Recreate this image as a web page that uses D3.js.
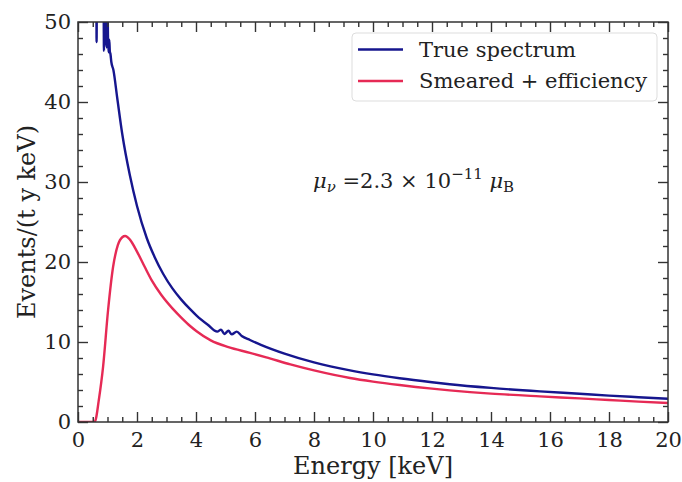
<!DOCTYPE html>
<html><head><meta charset="utf-8">
<script src="https://cdn.jsdelivr.net/npm/d3@7"></script>
<style>
body{margin:0;background:#fff;}
text{font-family:"DejaVu Serif",serif;fill:#222;}
</style></head>
<body><svg id="c" width="682" height="482"></svg>
<script>
// ---- data ----
const xTicks = [0,2,4,6,8,10,12,14,16,18,20];
const yTicks = [0,10,20,30,40,50];
const seriesNames = ["True spectrum","Smeared + efficiency"];
const trueE = [0.60,0.62,0.63,0.645,0.86,0.88,0.90,0.92,0.95,0.97,0.99,1.02,1.04,1.06,1.08,1.10,1.13,1.2,1.33,1.5,1.76,2.0,2.33,2.6,2.89,3.2,3.5,3.8,4.02,4.4,4.72,4.85,4.96,5.1,5.21,5.38,5.55,5.83,6.2,7.0,8.0,9.22,10.0,10.9,12.0,12.6,14.0,15.66,17.0,18.0,19.0,20.0];
const trueY = [60,60,47.5,60,60,46.4,56,47.2,55,46.8,55,47.5,46.2,47.8,46.3,46.0,45.0,44.0,40.5,36.0,30.8,27.0,23.0,20.6,18.5,16.7,15.3,14.1,13.3,12.15,11.3,11.55,11.0,11.4,10.95,11.3,10.75,10.25,9.65,8.55,7.45,6.45,5.95,5.47,4.97,4.72,4.26,3.83,3.53,3.3,3.1,2.9];
const smearE = [0.0,0.55,0.6,0.7,0.85,1.02,1.19,1.35,1.5,1.6,1.76,2.0,2.26,2.5,2.82,3.2,3.5,3.8,4.02,4.5,5.1,5.83,6.5,7.2,8.0,9.22,10.0,10.9,12.0,12.6,14.0,15.66,17.0,18.0,19.0,20.0];
const smearY = [0.0,0.0,0.3,2.6,6.9,14.0,19.4,22.1,23.1,23.25,22.8,21.3,19.4,17.7,15.9,14.2,13.05,12.0,11.35,10.2,9.35,8.65,7.95,7.2,6.45,5.5,5.05,4.62,4.17,3.96,3.55,3.2,2.95,2.75,2.55,2.37];
const xLabel = "Energy [keV]";
const yLabel = "Events/(t y keV)";

const svg = d3.select("#c");
const L=78,R=668,T=22,B=422;
const x = d3.scaleLinear().domain([0,20]).range([L,R]);
const y = d3.scaleLinear().domain([0,50]).range([B,T]);
const col = ["#16168e","#e62a55"];

svg.append("defs").append("clipPath").attr("id","clip")
  .append("rect").attr("x",L).attr("y",T).attr("width",R-L).attr("height",B-T);

const line = d3.line().x(d=>x(d[0])).y(d=>y(d[1])).curve(d3.curveMonotoneX);
const g = svg.append("g").attr("clip-path","url(#clip)");
g.append("path").datum(trueE.map((e,i)=>[e,trueY[i]]))
  .attr("d",line).attr("fill","none").attr("stroke",col[0]).attr("stroke-width",2.4).attr("stroke-linejoin","round");
g.append("path").datum(smearE.map((e,i)=>[e,smearY[i]]))
  .attr("d",line).attr("fill","none").attr("stroke",col[1]).attr("stroke-width",2.4).attr("stroke-linejoin","round");

// axes
const xMinor = d3.range(0,20.01,0.5).filter(v=>v%2!==0);
const yMinor = d3.range(0,50.01,2).filter(v=>v%10!==0);
function styleAxis(sel){
  sel.select(".domain").remove();
  sel.selectAll(".tick line").attr("stroke","#333").attr("stroke-width",1.4);
  sel.selectAll(".tick text").attr("font-size","21px").attr("fill","#222").style("font-family","DejaVu Serif, serif");
}
svg.append("g").attr("transform",`translate(0,${B})`).call(d3.axisBottom(x).tickValues(xTicks).tickSize(-10).tickPadding(10).tickFormat(d3.format("d"))).call(styleAxis);
svg.append("g").attr("transform",`translate(0,${B})`).call(d3.axisBottom(x).tickValues(xMinor).tickSize(-5).tickFormat("")).call(styleAxis);
svg.append("g").attr("transform",`translate(0,${T})`).call(d3.axisTop(x).tickValues(xTicks).tickSize(-10).tickFormat("")).call(styleAxis);
svg.append("g").attr("transform",`translate(0,${T})`).call(d3.axisTop(x).tickValues(xMinor).tickSize(-5).tickFormat("")).call(styleAxis);
svg.append("g").attr("transform",`translate(${L},0)`).call(d3.axisLeft(y).tickValues(yTicks).tickSize(-10).tickPadding(7).tickFormat(d3.format("d"))).call(styleAxis);
svg.append("g").attr("transform",`translate(${L},0)`).call(d3.axisLeft(y).tickValues(yMinor).tickSize(-5).tickFormat("")).call(styleAxis);
svg.append("g").attr("transform",`translate(${R},0)`).call(d3.axisRight(y).tickValues(yTicks).tickSize(-10).tickFormat("")).call(styleAxis);
svg.append("g").attr("transform",`translate(${R},0)`).call(d3.axisRight(y).tickValues(yMinor).tickSize(-5).tickFormat("")).call(styleAxis);

svg.append("rect").attr("x",L).attr("y",T).attr("width",R-L).attr("height",B-T)
  .attr("fill","none").attr("stroke","#333").attr("stroke-width",1.5);

// labels
svg.append("text").attr("x",(L+R)/2).attr("y",474).attr("text-anchor","middle").attr("font-size","24px").text(xLabel);
svg.append("text").attr("transform",`translate(35,${(T+B)/2}) rotate(-90)`).attr("text-anchor","middle").attr("font-size","24px").text(yLabel);

// annotation
const ann = svg.append("text").attr("x",313).attr("y",188).attr("font-size","21px");
ann.append("tspan").attr("font-style","italic").text("μ");
ann.append("tspan").attr("font-style","italic").attr("font-size","15px").attr("dy",4).text("ν");
ann.append("tspan").attr("dy",-4).text(" =2.3 × 10");
ann.append("tspan").attr("font-size","15px").attr("dy",-9).text("−11");
ann.append("tspan").attr("dy",9).attr("font-style","italic").text(" μ");
ann.append("tspan").attr("font-size","15px").attr("dy",4).text("B");

// legend
const lg = svg.append("g");
lg.append("rect").attr("x",352).attr("y",33).attr("width",305).attr("height",68).attr("rx",4)
  .attr("fill","#fff").attr("fill-opacity",0.85).attr("stroke","#ddd").attr("stroke-width",1);
seriesNames.forEach((n,i)=>{
  const yy = 49.5 + i*31.5;
  lg.append("line").attr("x1",358).attr("x2",403).attr("y1",yy).attr("y2",yy).attr("stroke",col[i]).attr("stroke-width",2.5);
  lg.append("text").attr("x",419).attr("y",yy+7).attr("font-size","21px").text(n);
});
</script></body></html>
